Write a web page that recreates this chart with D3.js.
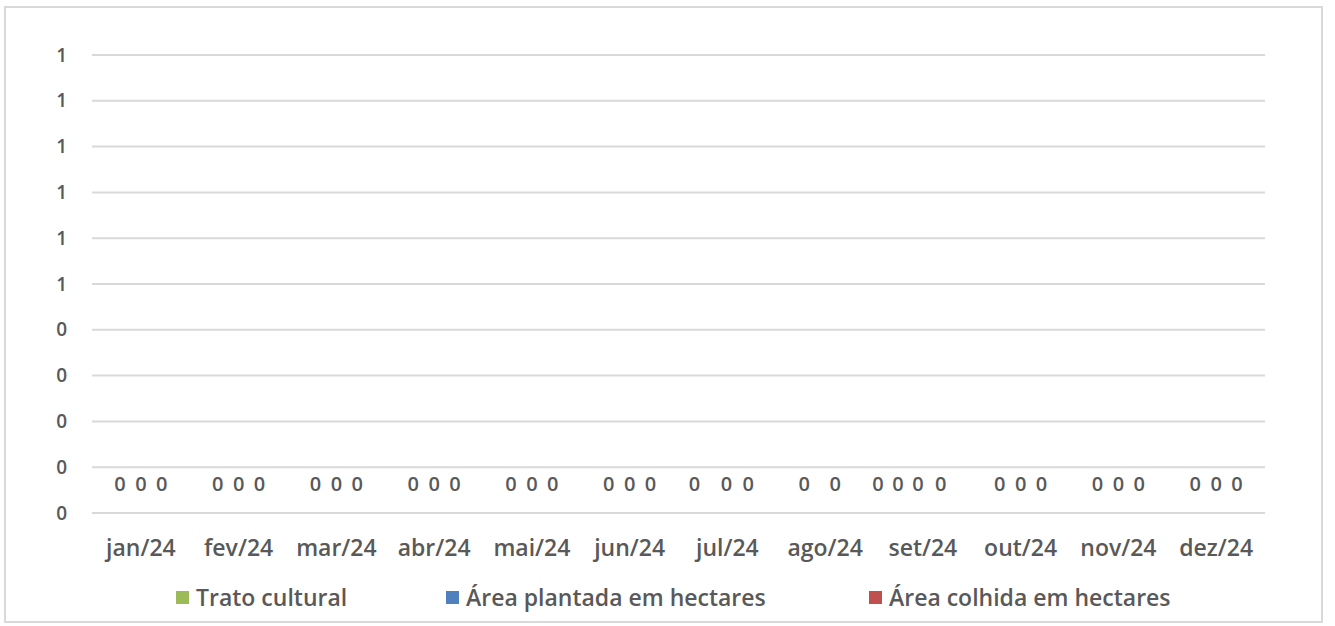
<!DOCTYPE html>
<html><head><meta charset="utf-8">
<script src="https://cdn.jsdelivr.net/npm/d3@7"></script>
<style>body{margin:0;background:#fff}svg{display:block}text{font-family:"Open Sans",sans-serif;font-weight:600;fill:#595959}</style>
</head><body><svg id="c" width="1335" height="626"></svg>
<script>
const months = ["jan/24","fev/24","mar/24","abr/24","mai/24","jun/24","jul/24","ago/24","set/24","out/24","nov/24","dez/24"];
const seriesNames = ["Trato cultural","Área plantada em hectares","Área colhida em hectares"];
const seriesColors = ["#9BBB59","#4F81BD","#C0504D"];
const tratoCultural = [0,0,0,0,0,0,0,0,0,0,0,0];
const areaPlantada = [0,0,0,0,0,0,0,0,0,0,0,0];
const areaColhida = [0,0,0,0,0,0,0,0,0,0,0,0];
const yTicks = [0,0.1,0.2,0.3,0.4,0.5,0.6,0.7,0.8,0.9,1.0];
const yTickLabels = ["0","0","0","0","0","1","1","1","1","1","1"];

const svg = d3.select("#c");
const W = 1335, H = 626;
const m = {left:92, right:70, top:55, bottom:113};

svg.append("rect").attr("x",5).attr("y",7).attr("width",1317).attr("height",615)
  .attr("fill","#fff").attr("stroke","#d9d9d9").attr("stroke-width",2);

const x = d3.scaleBand().domain(months).range([m.left, W - m.right]).paddingInner(0);
const bw = x.bandwidth();
const xs = d3.scaleBand().domain(seriesNames).range([bw*0.18, bw*0.82]);
const y = d3.scaleLinear().domain([0,1]).range([H - m.bottom, m.top]);

// gridlines
svg.append("g").selectAll("line").data(yTicks).join("line")
  .attr("x1", m.left).attr("x2", W - m.right)
  .attr("y1", d => y(d)).attr("y2", d => y(d))
  .attr("stroke","#d9d9d9").attr("stroke-width",2);

// y labels
svg.append("g").selectAll("text").data(yTicks).join("text")
  .attr("x", 67).attr("y", d => y(d)).attr("dy","0.35em")
  .attr("text-anchor","end").attr("font-size",19)
  .text((d,i) => yTickLabels[i]);

// x labels
svg.append("g").selectAll("text").data(months).join("text")
  .attr("x", d => x(d) + bw/2).attr("y", 556)
  .attr("text-anchor","middle").attr("font-size",23)
  .text(d => d);

// bars + labels
const allSeries = [tratoCultural, areaPlantada, areaColhida];
// manual label nudges (labels dragged in the source chart)
const nudge = {"6-0":-12,"6-1":-1,"7-1":10,"7-2":32,"8-0":-4,"8-1":-5,"8-2":-3};
allSeries.forEach((vals, si) => {
  const g = svg.append("g");
  g.selectAll("rect").data(vals).join("rect")
    .attr("x", (d,i) => x(months[i]) + xs(seriesNames[si]))
    .attr("width", xs.bandwidth())
    .attr("y", d => y(d)).attr("height", d => y(0) - y(d))
    .attr("fill", seriesColors[si]);
  g.selectAll("text").data(vals).join("text")
    .attr("x", (d,i) => x(months[i]) + xs(seriesNames[si]) + xs.bandwidth()/2 + (nudge[i+"-"+si]||0))
    .attr("y", d => y(d) - 22)
    .attr("text-anchor","middle").attr("font-size",20)
    .text(d => d3.format(".0f")(d));
});

// legend
const legX = [176, 446, 869];
const lg = svg.append("g");
seriesNames.forEach((s,i) => {
  lg.append("rect").attr("x", legX[i]).attr("y", 591).attr("width",13).attr("height",13).attr("fill", seriesColors[i]);
  lg.append("text").attr("x", legX[i] + 20).attr("y", 598).attr("dy","0.35em").attr("font-size",23).text(s);
});
</script></body></html>
